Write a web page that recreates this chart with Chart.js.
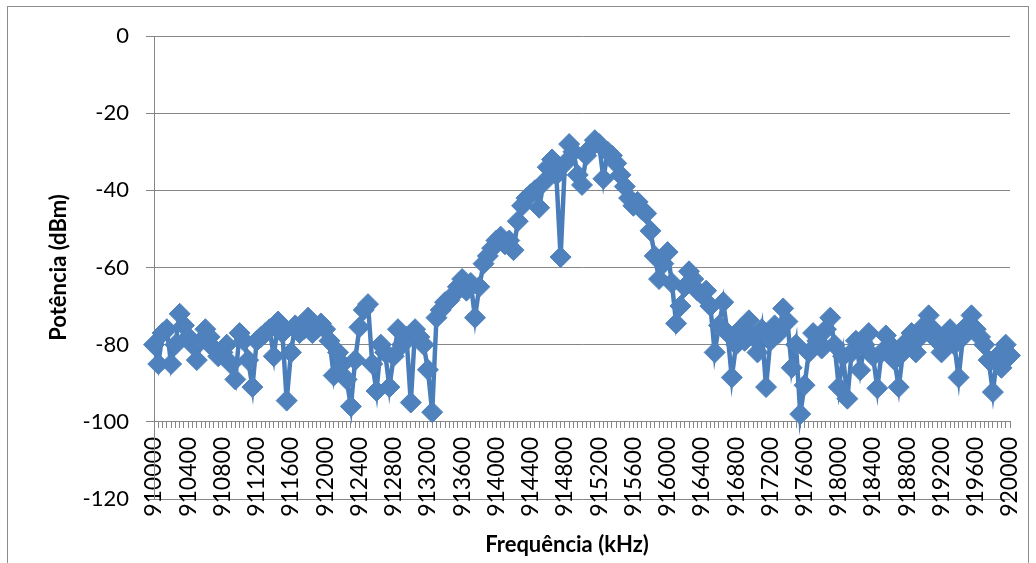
<!DOCTYPE html>
<html>
<head>
<meta charset="utf-8">
<title>Potência x Frequência</title>
<script src="https://cdn.jsdelivr.net/npm/chart.js@4/dist/chart.umd.min.js"></script>
<style>
  body { margin: 0; background: #fff; }
  #wrap { position: relative; width: 1036px; height: 563px; overflow: hidden; }
  #frame { position: absolute; left: 7px; top: 6px; width: 1020px; height: 600px; border: 1px solid #8c8c8c; }
  canvas { position: absolute; left: 0; top: 0; }
</style>
</head>
<body>
<div id="wrap">
  <div id="frame"></div>
  <canvas id="spectrum" width="1036" height="563"></canvas>
</div>
<script>
// sweep: 910000 .. 920000 kHz, one reading every 50 kHz
const startFreq = 910000;
const stepFreq = 50;
const labelEvery = 8; // a label every 400 kHz

// measured power (dBm), one value per frequency step
const power = [
  -80, -85, -77, -76, -85, -80, -72, -75, -78, -80,
  -84, -79, -76, -78, -81, -83, -82, -80, -85, -89,
  -77, -79, -84, -91, -79, -78, -77, -76, -83, -74,
  -77, -94.5, -82, -75, -77, -76, -73, -77, -76, -74.5,
  -76, -79, -88, -82, -85, -89, -96, -84, -75.5, -71,
  -69.5, -85, -92, -80, -82, -91, -83, -76, -80, -78,
  -95, -76, -78, -80, -86.5, -97.5, -73, -71, -69, -68.5,
  -67, -65, -63, -66, -64, -73, -65, -59, -57, -55,
  -53, -52, -54, -53, -55.5, -48, -44, -42, -41, -40,
  -44.5, -38, -34, -32, -36, -57.3, -33, -28, -30, -36,
  -38.6, -31, -29, -27, -28, -37, -30, -31, -33, -36,
  -39, -42, -44, -43, -45, -46, -50.5, -57, -63, -59,
  -56, -64, -74.5, -70, -65, -61, -63, -66, -67, -66,
  -70, -82, -75, -69, -77, -88.5, -80, -76, -79, -73.7,
  -78, -82, -76, -91, -79, -75, -77, -70.6, -74, -86,
  -80, -98, -90.5, -82, -77, -79, -81, -76, -73, -80,
  -91, -83, -94, -82, -79, -86.6, -80, -77, -83, -91.3,
  -82, -77.6, -80, -84, -91, -82, -79, -77, -82, -78,
  -75, -72.4, -76, -79, -82, -78, -76, -80, -88.5, -78,
  -75, -72.4, -76, -78, -80, -84, -92.3, -83, -86, -80,
  -82.8
];

const freqs = [];
for (let i = 0; i < power.length; i++) {
  freqs.push(String(startFreq + i * stepFreq));
}

const yMin = -120;
const yMax = 0;
const yStep = 20;
const axisCross = -100; // category axis sits on this power level

const axisGrey = '#868686';
const tickFont = { family: 'Lato', size: 22 };
const freqFont = { family: 'Lato', size: 23 };
const titleFont = { family: 'Lato', size: 22, weight: 'bold' };

// x axis title, drawn under the rotated labels
const freqTitle = {
  id: 'freqTitle',
  afterDraw(chart) {
    const { ctx, chartArea } = chart;
    ctx.save();
    ctx.font = 'bold 22px Lato';
    ctx.fillStyle = '#000';
    ctx.textAlign = 'center';
    ctx.textBaseline = 'middle';
    ctx.fillText('Frequência (kHz)', (chartArea.left + chartArea.right) / 2 - 15, 545);
    ctx.restore();
  }
};

new Chart(document.getElementById('spectrum'), {
  type: 'line',
  data: {
    labels: freqs,
    datasets: [{
      label: 'Potência',
      data: power,
      borderColor: '#4A7EBB',
      borderWidth: 4.5,
      pointStyle: 'rectRot',
      pointRadius: 10.5,
      pointBackgroundColor: '#4F81BD',
      pointBorderColor: '#4F81BD',
      pointBorderWidth: 1,
      tension: 0,
      clip: false
    }]
  },
  options: {
    responsive: false,
    animation: false,
    layout: { padding: { left: 0, top: 36, right: 26, bottom: 64 } },
    plugins: {
      legend: { display: false },
      tooltip: { enabled: false }
    },
    scales: {
      x: {
        type: 'category',
        position: { y: axisCross },
        offset: false,
        // the rotated end labels fit inside the layout padding already
        afterFit: (scale) => { scale.paddingLeft = 0; scale.paddingRight = 0; },
        grid: { drawOnChartArea: false, drawTicks: true, tickLength: 6, color: axisGrey },
        border: { color: axisGrey, width: 1 },
        ticks: {
          autoSkip: false,
          minRotation: 90,
          maxRotation: 90,
          padding: 9,
          color: '#000',
          font: freqFont,
          callback: (value, index) => (index % labelEvery === 0 ? freqs[index] : '')
        }
      },
      y: {
        min: yMin,
        max: yMax,
        afterFit: (scale) => { scale.width = 154; },
        grid: { color: axisGrey, tickLength: 8 },
        border: { color: axisGrey },
        ticks: { stepSize: yStep, padding: 17, color: '#000', font: tickFont },
        title: {
          display: true,
          text: 'Potência (dBm)',
          color: '#000',
          font: titleFont,
          padding: { top: 46, bottom: 0 }
        }
      }
    }
  },
  plugins: [freqTitle]
});
</script>
</body>
</html>
